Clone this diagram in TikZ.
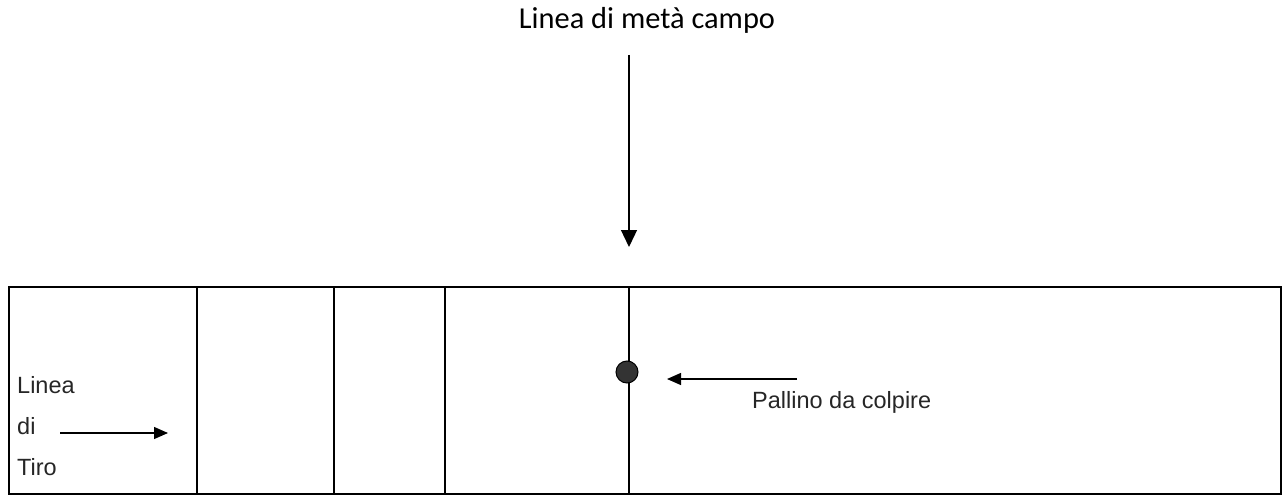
\documentclass[tikz,border=0pt]{standalone}
\usepackage{fontspec}
\setmainfont{Liberation Sans}
\newfontfamily\titlefont{Carlito}
\usetikzlibrary{arrows.meta}

\def\fieldColor{black}
\def\dotColor{black!80}

\begin{document}
\begin{tikzpicture}[x=1pt,y=-1pt,
    campo/.style={\fieldColor,line width=1.4pt},
    freccia/.style={line width=1.3pt,-{Triangle[length=14pt,width=12pt]}},
    scritta/.style={inner sep=0pt,anchor=base west,text=black!85,font=\fontsize{23.5}{28}\selectfont}]

    \useasboundingbox (0,0) rectangle (1285,503);

    % Define parameters
    \def\ytop{287}
    \def\ybot{494}
    \def\xmid{629}

    % field
    \draw[campo] (9,\ytop) rectangle (1281,\ybot);
    \foreach \x in {197,334,445,\xmid}
        \draw[campo] (\x,\ytop) -- (\x,\ybot);

    % midfield label
    \node[font=\titlefont\fontsize{30.4}{36}\selectfont, anchor=base, inner sep=0pt] (meta) at (647,29) {Linea di metà campo};
    \coordinate (metaStart) at (\xmid,55);
    \coordinate (metaTip) at (\xmid,247);
    \draw[freccia, -{Triangle[length=17pt,width=16pt]}] (metaStart) -- (metaTip);

    % target ball
    \node[circle, fill=\dotColor, draw=black, line width=1pt, minimum size=22pt, inner sep=0pt] (pallino) at (627,372) {};
    \node[scritta] (colpire) at (752,408) {Pallino da colpire};
    \coordinate (colpireStart) at (797,379);
    \coordinate (colpireTip) at (667,379);
    \draw[freccia] (colpireStart) -- (colpireTip);

    % shooting line
    \node[scritta] (linea) at (17,393) {Linea};
    \node[scritta] (di) at (17,434) {di};
    \node[scritta] (tiro) at (17,475) {Tiro};
    \coordinate (tiroStart) at (60,433);
    \coordinate (tiroTip) at (168,433);
    \draw[freccia] (tiroStart) -- (tiroTip);

\end{tikzpicture}
\end{document}
